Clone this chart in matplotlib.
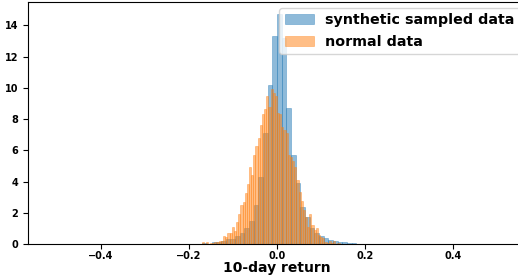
import numpy as np
import matplotlib
matplotlib.use("Agg")
import matplotlib.pyplot as plt

# histogram heights (density)
# synthetic sampled data: bins of width 0.0106 starting at -0.1803
synth_start = -0.1803
synth_width = 0.0106
synth_density = [0.0, 0.08, 0.0, 0.13, 0.13, 0.2, 0.3, 0.35, 0.53, 0.7,
                 1.0, 1.5, 2.5, 4.3, 7.1, 10.2, 13.3, 14.7, 13.2, 8.7,
                 5.7, 3.9, 2.4, 1.7, 1.0, 0.72, 0.53, 0.4, 0.25, 0.19,
                 0.13, 0.13, 0.08, 0.08, 0.0]

# normal data: bins of width 0.0049 starting at -0.1715
normal_start = -0.1715
normal_width = 0.0049
normal_density = [0.1, 0.0, 0.1, 0.0, 0.05, 0.05, 0.1, 0.15, 0.2, 0.2,
                  0.5, 0.45, 0.73, 0.7, 1.1, 0.85, 1.43, 1.92, 2.5, 2.7,
                  3.25, 3.85, 4.95, 4.4, 5.7, 6.3, 6.8, 7.6, 8.3, 8.65,
                  9.45, 8.8, 9.9, 9.7, 9.45, 8.4, 8.3, 7.5, 7.3, 7.1,
                  5.7, 5.6, 5.3, 4.95, 4.1, 3.3, 2.75, 2.2, 1.75, 1.1,
                  1.9, 1.2, 0.9, 1.0, 0.58, 0.43, 0.36, 0.15, 0.08, 0.2,
                  0.08, 0.17, 0.0, 0.05]


def bin_edges(start, width, n):
    return start + width * np.arange(n + 1)


fig = plt.figure(figsize=(5.18, 2.77), dpi=100)
ax = fig.add_axes([28 / 518, 33 / 277, 498 / 518, 242 / 277])

edges_s = bin_edges(synth_start, synth_width, len(synth_density))
edges_n = bin_edges(normal_start, normal_width, len(normal_density))

ax.hist((edges_s[:-1] + edges_s[1:]) / 2, bins=edges_s, weights=synth_density,
        alpha=0.5, color="tab:blue", edgecolor="tab:blue", linewidth=0.5,
        label="synthetic sampled data")
ax.hist((edges_n[:-1] + edges_n[1:]) / 2, bins=edges_n, weights=normal_density,
        alpha=0.5, color="tab:orange", edgecolor="tab:orange", linewidth=0.5,
        label="normal data")

ax.set_xlim(-0.566, 0.566)
ax.set_ylim(0, 15.5)
ax.set_xticks([-0.4, -0.2, 0.0, 0.2, 0.4])
ax.set_yticks(range(0, 15, 2))
ax.tick_params(axis="x", pad=1.5)
for lab in ax.get_xticklabels() + ax.get_yticklabels():
    lab.set_fontweight("bold")
    lab.set_fontsize(7)
ax.set_xlabel("10-day return", fontsize=10, fontweight="bold", labelpad=0)
ax.legend(loc="upper right", prop={"weight": "bold", "size": 10.3},
          borderaxespad=0.4)

fig.savefig("out.png", dpi=100)
